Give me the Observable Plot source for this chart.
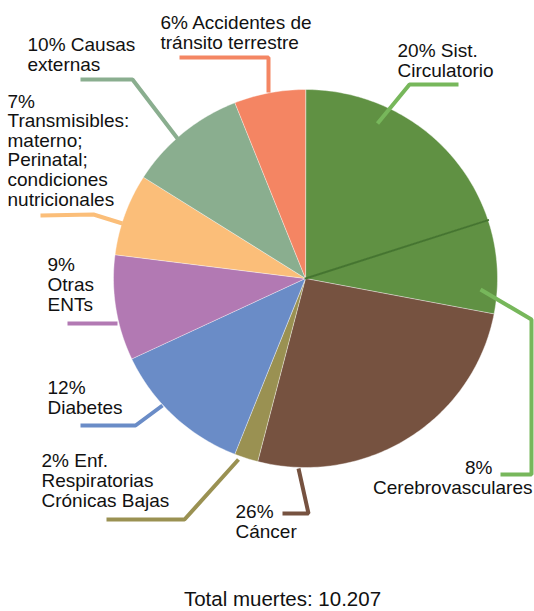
<!DOCTYPE html>
<html>
<head>
<meta charset="utf-8">
<script src="https://cdn.jsdelivr.net/npm/d3@7"></script>
<script src="https://cdn.jsdelivr.net/npm/@observablehq/plot@0.6"></script>
<style>
  html, body { margin: 0; padding: 0; background: #fff; }
  #chart { width: 534px; height: 611px; }
</style>
</head>
<body>
<div id="chart"></div>
<script>
// ---- Data ----
const categories = [
  "Sist. Circulatorio", "Cerebrovasculares", "Cáncer",
  "Enf. Respiratorias Crónicas Bajas", "Diabetes", "Otras ENTs",
  "Transmisibles", "Causas externas", "Accidentes de tránsito terrestre"
];
const values = [20, 8, 26, 2, 12, 9, 7, 10, 6];
const labels = [
  "20% Sist.\nCirculatorio",
  "8%\nCerebrovasculares",
  "26%\nCáncer",
  "2% Enf.\nRespiratorias\nCrónicas Bajas",
  "12%\nDiabetes",
  "9%\nOtras\nENTs",
  "7%\nTransmisibles:\nmaterno;\nPerinatal;\ncondiciones\nnutricionales",
  "10% Causas\nexternas",
  "6% Accidentes de\ntránsito terrestre"
];
const caption = "Total muertes: 10.207";

// ---- Styles ----
const sliceColors = ["#609143", "#609143", "#765240", "#9a9152", "#6a8cc7",
                     "#b279b3", "#fbbe79", "#8aae8f", "#f48563"];
const leaderColors = ["#77b75b", "#77b75b", "#765240", "#9a9152", "#6a8cc7",
                      "#b279b3", "#fbbe79", "#8aae8f", "#f48663"];

// ---- Layout (pixels) ----
const W = 534, H = 611;
const cx = 305, cy = 278, rx = 192, ry = 189;
const FONT = 19;
// label anchor: [x, baseline of last line, textAnchor]
const labelPos = [
  [397, 76, "start"],
  null, // handled separately (two anchors)
  [235, 537, "start"],
  [41, 506, "start"],
  [47, 413, "start"],
  [47, 310, "start"],
  [7, 205, "start"],
  [27, 70, "start"],
  [160, 48, "start"]
];
const leaders = [
  [[377,123],[409,84],[458,84]],
  [[480,289],[531,319],[531,474],[500,474]],
  [[282,513],[308,513],[298,468]],
  [[106,519],[184,519],[238,459]],
  [[80,425],[135,425],[162,405]],
  [[67,323],[117,323]],
  [[40,215],[93,214],[122,223]],
  [[80,79],[132,79],[177,138]],
  [[179,57],[268,57],[268,92]]
];

// ---- Build geometry from data ----
const arcs = d3.pie().sort(null).value(d => d)(values);
const pt = a => [cx + rx * Math.sin(a), cy - ry * Math.cos(a)];
const slicePts = [];
arcs.forEach((a, i) => {
  slicePts.push({i, x: cx, y: cy});
  const n = Math.max(4, Math.ceil((a.endAngle - a.startAngle) / (Math.PI / 180)));
  for (let k = 0; k <= n; k++) {
    const t = a.startAngle + (a.endAngle - a.startAngle) * k / n;
    const [x, y] = pt(t);
    slicePts.push({i, x, y});
  }
});
// dark divider between the two circulatory slices
const divider = [{x: cx, y: cy}, (([x, y]) => ({x, y}))(pt(arcs[0].endAngle))];

const leaderPts = [];
leaders.forEach((l, i) => l.forEach(([x, y]) => leaderPts.push({i, x, y})));

const textRows = [];
labels.forEach((t, i) => {
  if (!labelPos[i]) return;
  const [x, y, anchor] = labelPos[i];
  textRows.push({text: t, x, y, anchor});
});
const cereParts = labels[1].split("\n");
textRows.push({text: cereParts[0], x: 492, y: 473, anchor: "end"});
textRows.push({text: cereParts[1], x: 532, y: 493, anchor: "end"});

const plot = Plot.plot({
  width: W, height: H,
  margin: 0,
  x: {domain: [0, W], range: [0, W], axis: null},
  y: {domain: [0, H], range: [0, H], axis: null},
  style: {fontFamily: "'Liberation Sans', Arial, sans-serif", background: "#fff"},
  marks: [
    Plot.line(slicePts, {x: "x", y: "y", z: "i", curve: "linear-closed",
      fill: d => sliceColors[d.i], stroke: "#ffffff", strokeWidth: 0.6, strokeOpacity: 0.7}),
    Plot.line(divider, {x: "x", y: "y", stroke: "#457530", strokeWidth: 2}),
    Plot.line(leaderPts, {x: "x", y: "y", z: "i", stroke: d => leaderColors[d.i],
      strokeWidth: 4, strokeLinejoin: "miter", strokeLinecap: "butt"}),
    Plot.text(textRows.filter(d => d.anchor === "start"), {x: "x", y: "y", text: "text",
      textAnchor: "start", lineAnchor: "bottom", lineHeight: 1.03, fontSize: FONT, fill: "#111"}),
    Plot.text(textRows.filter(d => d.anchor === "end"), {x: "x", y: "y", text: "text",
      textAnchor: "end", lineAnchor: "bottom", lineHeight: 1.03, fontSize: FONT, fill: "#111"}),
    Plot.text([caption], {x: () => 282, y: () => 605, text: d => d,
      textAnchor: "middle", lineAnchor: "bottom", fontSize: 20.5, fill: "#111"})
  ]
});
document.getElementById("chart").appendChild(plot);
</script>
</body>
</html>
